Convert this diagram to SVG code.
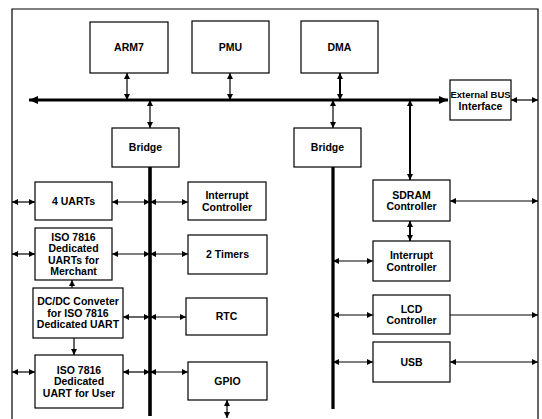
<svg xmlns="http://www.w3.org/2000/svg" width="542" height="419" viewBox="0 0 542 419">
<style>
.box{fill:#fff;stroke:#000;stroke-width:1.2}
.t{font-family:"Liberation Sans",Arial,sans-serif;font-weight:bold;font-size:10.5px;text-anchor:middle;fill:#000}
.ln{stroke:#000;stroke-width:1.2;fill:none}
.th{stroke:#000;stroke-width:2;fill:none}
.bus{stroke:#000;stroke-width:3.2;fill:none}
</style>
<defs>
<marker id="a" markerUnits="userSpaceOnUse" markerWidth="7" markerHeight="6" refX="6" refY="3" orient="auto-start-reverse"><path d="M0,0 L6,3 L0,6 z" fill="#000"/></marker>
<marker id="b" markerUnits="userSpaceOnUse" markerWidth="10" markerHeight="9" refX="9" refY="4" orient="auto-start-reverse"><path d="M0,0 L9,4 L0,8 z" fill="#000"/></marker>
</defs>
<g id="frame"><path d="M12,419 V9 H538 V419" class="ln"/></g>
<g id="connectors">
<line x1="29" y1="100" x2="448" y2="100" class="bus" marker-start="url(#b)" marker-end="url(#b)"/>
<line x1="150" y1="167" x2="150" y2="416" class="bus" style="stroke-width:3.6"/>
<line x1="333" y1="167" x2="333" y2="409" class="bus"/>
<line x1="127" y1="73" x2="127" y2="100" class="ln" marker-start="url(#a)" marker-end="url(#a)"/>
<line x1="230" y1="73" x2="230" y2="100" class="ln" marker-start="url(#a)" marker-end="url(#a)"/>
<line x1="340" y1="73" x2="340" y2="100" class="th" marker-start="url(#a)" marker-end="url(#a)"/>
<line x1="150" y1="100" x2="150" y2="128" class="ln" marker-start="url(#a)" marker-end="url(#a)"/>
<line x1="333" y1="100" x2="333" y2="128" class="ln" marker-start="url(#a)" marker-end="url(#a)"/>
<line x1="511" y1="100" x2="538" y2="100" class="ln" marker-start="url(#a)" marker-end="url(#a)"/>
<line x1="410" y1="100" x2="410" y2="180" class="th" marker-start="url(#a)" marker-end="url(#a)"/>
<line x1="410" y1="221" x2="410" y2="241" class="th" marker-start="url(#a)" marker-end="url(#a)"/>
<line x1="450" y1="201" x2="538" y2="201" class="ln" marker-start="url(#a)" marker-end="url(#a)"/>
<line x1="333" y1="261" x2="373" y2="261" class="ln" marker-start="url(#a)" marker-end="url(#a)"/>
<line x1="333" y1="315" x2="373" y2="315" class="ln" marker-start="url(#a)" marker-end="url(#a)"/>
<line x1="450" y1="315" x2="538" y2="315" class="ln" marker-end="url(#a)"/>
<line x1="333" y1="362" x2="373" y2="362" class="ln" marker-start="url(#a)" marker-end="url(#a)"/>
<line x1="450" y1="362" x2="538" y2="362" class="ln" marker-start="url(#a)" marker-end="url(#a)"/>
<line x1="12" y1="202" x2="35" y2="202" class="ln" marker-start="url(#a)" marker-end="url(#a)"/>
<line x1="112" y1="202" x2="150" y2="202" class="ln" marker-start="url(#a)" marker-end="url(#a)"/>
<line x1="150" y1="202" x2="188" y2="202" class="ln" marker-start="url(#a)" marker-end="url(#a)"/>
<line x1="12" y1="254" x2="35" y2="254" class="ln" marker-start="url(#a)" marker-end="url(#a)"/>
<line x1="112" y1="254" x2="150" y2="254" class="ln" marker-start="url(#a)" marker-end="url(#a)"/>
<line x1="150" y1="254" x2="188" y2="254" class="ln" marker-start="url(#a)" marker-end="url(#a)"/>
<line x1="72" y1="288" x2="72" y2="280" class="ln" marker-end="url(#a)"/>
<line x1="123" y1="317" x2="150" y2="317" class="ln" marker-start="url(#a)" marker-end="url(#a)"/>
<line x1="150" y1="317" x2="186" y2="317" class="ln" marker-start="url(#a)" marker-end="url(#a)"/>
<line x1="74" y1="338" x2="74" y2="355" class="ln" marker-end="url(#a)"/>
<line x1="12" y1="372" x2="35" y2="372" class="ln" marker-start="url(#a)" marker-end="url(#a)"/>
<line x1="123" y1="372" x2="150" y2="372" class="ln" marker-start="url(#a)" marker-end="url(#a)"/>
<line x1="150" y1="372" x2="188" y2="372" class="ln" marker-start="url(#a)" marker-end="url(#a)"/>
<line x1="227" y1="400" x2="227" y2="418" class="ln" marker-start="url(#a)" marker-end="url(#a)"/>
</g>
<g id="arm7"><rect x="90" y="22" width="78" height="51" class="box"/><text x="129" y="51" class="t">ARM7</text></g>
<g id="pmu"><rect x="192" y="21" width="77" height="52" class="box"/><text x="230.5" y="51" class="t">PMU</text></g>
<g id="dma"><rect x="301" y="21" width="77" height="52" class="box"/><text x="339.5" y="51" class="t">DMA</text></g>
<g id="extbus"><rect x="450" y="80" width="61" height="40" class="box"/><text x="480.5" y="98" class="t" style="font-size:9.5px">External BUS</text><text x="480.5" y="109.5" class="t">Interface</text></g>
<g id="bridge1"><rect x="112" y="128" width="67" height="39" class="box"/><text x="145.5" y="151" class="t">Bridge</text></g>
<g id="bridge2"><rect x="294" y="128" width="67" height="39" class="box"/><text x="327.5" y="151" class="t">Bridge</text></g>
<g id="uarts4"><rect x="35" y="182" width="77" height="38" class="box"/><text x="73.5" y="205" class="t">4 UARTs</text></g>
<g id="intctrl1"><rect x="188" y="182" width="78" height="38" class="box"/><text x="227" y="199" class="t">Interrupt</text><text x="227" y="210.5" class="t">Controller</text></g>
<g id="iso_merchant"><rect x="35" y="228" width="77" height="52" class="box"/><text x="73.5" y="240.5" class="t">ISO 7816</text><text x="73.5" y="252" class="t">Dedicated</text><text x="73.5" y="263.5" class="t">UARTs for</text><text x="73.5" y="275" class="t">Merchant</text></g>
<g id="timers"><rect x="188" y="235" width="79" height="39" class="box"/><text x="227.5" y="258" class="t">2 Timers</text></g>
<g id="dcdc"><rect x="33" y="288" width="90" height="50" class="box"/><text x="78" y="305.25" class="t">DC/DC Conveter</text><text x="78" y="316.75" class="t">for ISO 7816</text><text x="78" y="328.25" class="t">Dedicated UART</text></g>
<g id="rtc"><rect x="186" y="298" width="81" height="37" class="box"/><text x="226.5" y="320" class="t">RTC</text></g>
<g id="iso_user"><rect x="35" y="355" width="88" height="53" class="box"/><text x="79" y="373.75" class="t">ISO 7816</text><text x="79" y="385.25" class="t">Dedicated</text><text x="79" y="396.75" class="t">UART for User</text></g>
<g id="gpio"><rect x="188" y="362" width="79" height="38" class="box"/><text x="227.5" y="385" class="t">GPIO</text></g>
<g id="sdram"><rect x="373" y="180" width="77" height="41" class="box"/><text x="411.5" y="198.5" class="t">SDRAM</text><text x="411.5" y="210" class="t">Controller</text></g>
<g id="intctrl2"><rect x="373" y="241" width="77" height="40" class="box"/><text x="411.5" y="259" class="t">Interrupt</text><text x="411.5" y="270.5" class="t">Controller</text></g>
<g id="lcd"><rect x="373" y="295" width="77" height="39" class="box"/><text x="411.5" y="312.5" class="t">LCD</text><text x="411.5" y="324" class="t">Controller</text></g>
<g id="usb"><rect x="373" y="342" width="77" height="40" class="box"/><text x="411.5" y="366" class="t">USB</text></g>
</svg>
